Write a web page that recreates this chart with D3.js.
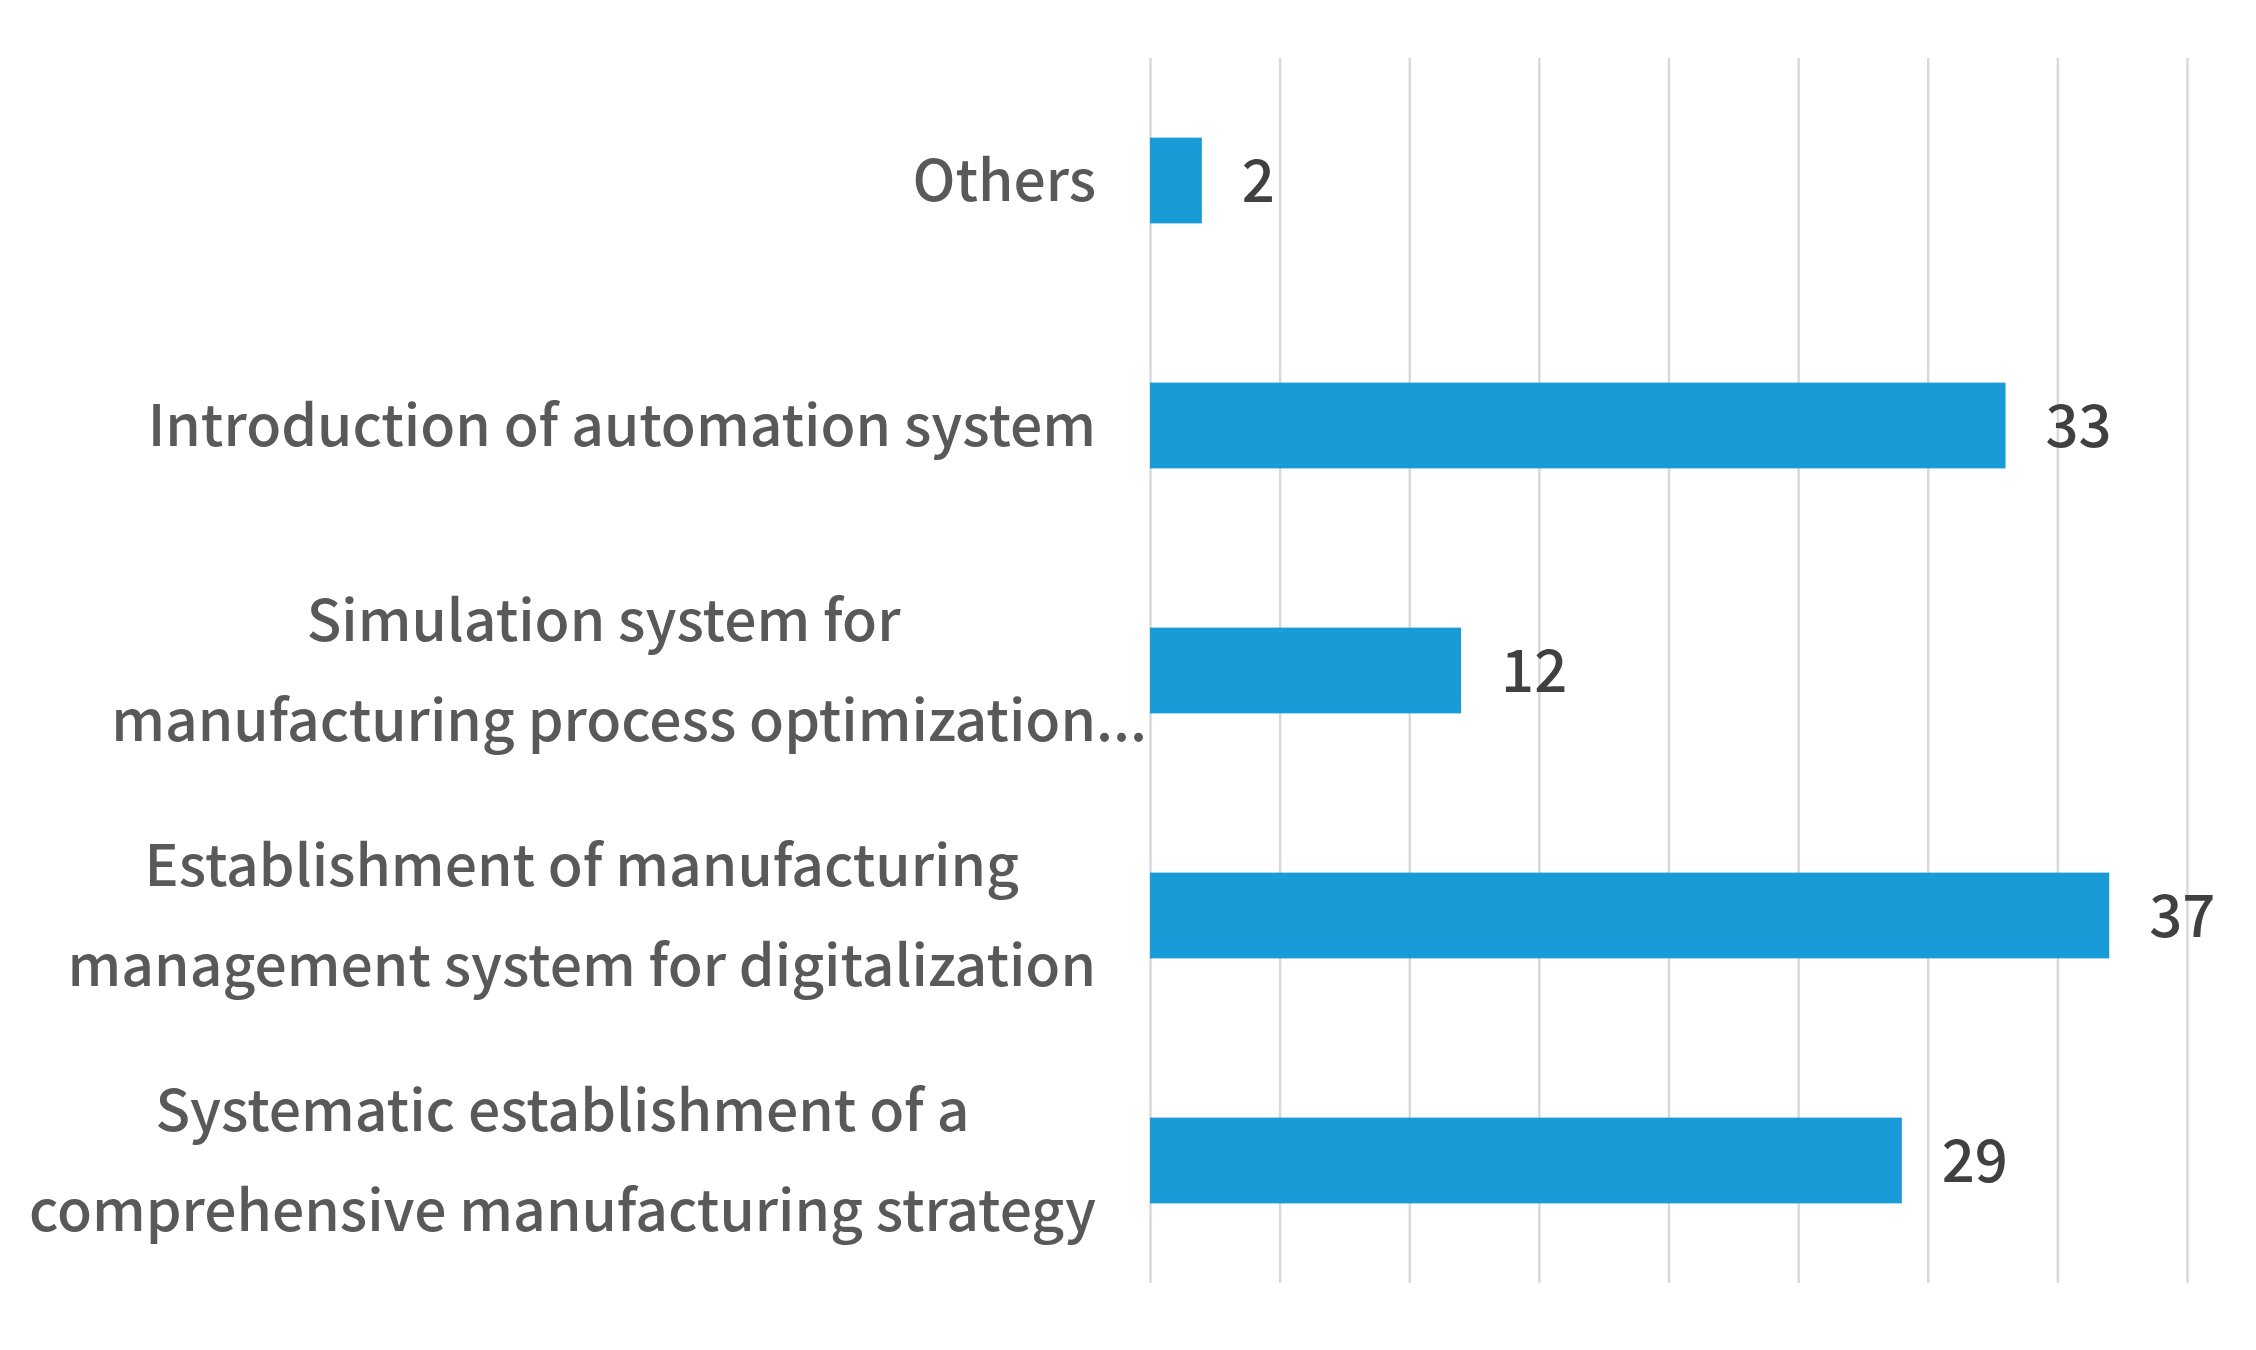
<!DOCTYPE html>
<html>
<head>
<meta charset="utf-8">
<script src="https://cdn.jsdelivr.net/npm/d3@7"></script>
<style>
  body { margin: 0; background: #fff; }
  text { font-family: "Noto Sans CJK KR", "Noto Sans", sans-serif; font-weight: 500; }
</style>
</head>
<body>
<svg id="chart" width="2256" height="1350"></svg>
<script>
// categories, top to bottom (each entry is the wrapped label lines)
const categories = [
    ["Others"],
    ["Introduction of automation system"],
    ["Simulation system for", "manufacturing process optimization..."],
    ["Establishment of manufacturing", "management system for digitalization"],
    ["Systematic establishment of a", "comprehensive manufacturing strategy"]
];
const values = [2, 33, 12, 37, 29];
const xTicks = [0, 5, 10, 15, 20, 25, 30, 35, 40];

function drawChart() {
    const svg = d3.select("#chart");

    const x = d3.scaleLinear().domain([0, 40]).range([1150, 2187]);
    const y = d3.scaleBand()
        .domain(d3.range(categories.length))
        .range([58, 1283])
        .paddingInner(0.65)
        .paddingOuter(0.325);

    // vertical gridlines
    const grid = svg.append("g")
        .attr("transform", "translate(0,58)")
        .call(d3.axisBottom(x).tickValues(xTicks).tickSize(1225).tickFormat(""));
    grid.select(".domain").remove();
    grid.selectAll("line")
        .style("stroke", "#d9d9d9")
        .style("stroke-width", 2.5);

    // bars
    svg.selectAll(".bar")
        .data(values)
        .enter()
        .append("rect")
        .attr("class", "bar")
        .attr("x", x(0))
        .attr("y", (d, i) => y(i))
        .attr("width", d => x(d) - x(0))
        .attr("height", y.bandwidth())
        .style("fill", "#189bd7");

    // value labels
    svg.selectAll(".val")
        .data(values)
        .enter()
        .append("text")
        .attr("class", "val")
        .attr("x", d => x(d) + 40)
        .attr("y", (d, i) => y(i) + y.bandwidth() / 2 + 21)
        .text(d => d)
        .style("font-size", "58px")
        .style("fill", "#404040");

    // category labels: lines centred on each other, longest line right-aligned,
    // a trailing "..." is allowed to run past the edge like in Excel
    const rightEdge = 1096;
    const lineGap = 100;
    categories.forEach((lines, i) => {
        const cy = y(i) + y.bandwidth() / 2;
        const g = svg.append("g").attr("class", "cat");
        const texts = lines.map((ln, j) => g.append("text")
            .attr("y", cy + 20 + (j - (lines.length - 1) / 2) * lineGap)
            .text(ln)
            .style("font-size", "57px")
            .style("fill", "#595959"));
        const widths = texts.map((t, j) => {
            const node = t.node();
            const ln = lines[j];
            return ln.endsWith("...") ? node.getSubStringLength(0, ln.length - 3)
                                      : node.getComputedTextLength();
        });
        const maxW = d3.max(widths);
        const centre = rightEdge - maxW / 2;
        texts.forEach((t, j) => t.attr("x", centre - widths[j] / 2));
    });
}

drawChart();
</script>
</body>
</html>
